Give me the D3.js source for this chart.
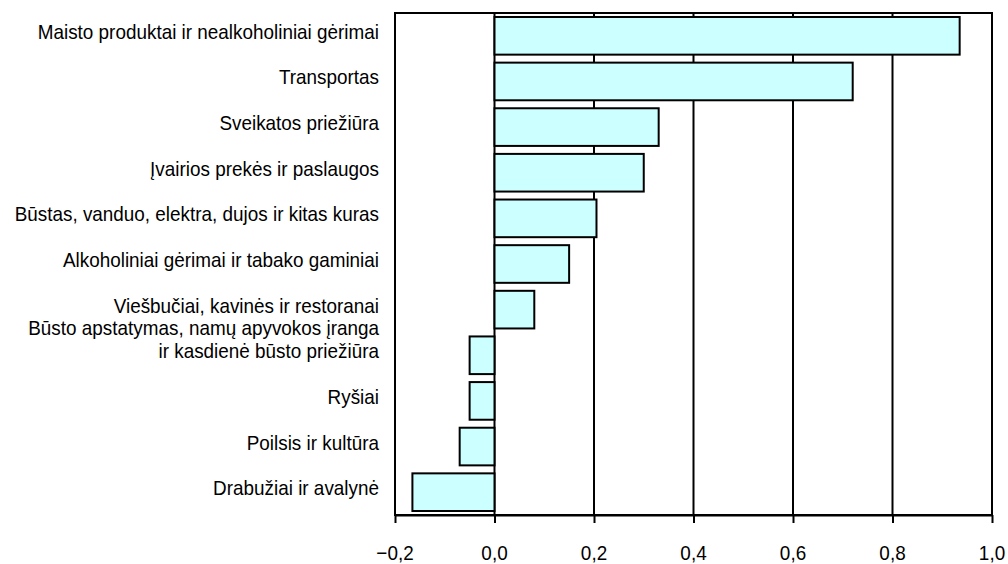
<!DOCTYPE html>
<html>
<head>
<meta charset="utf-8">
<script src="https://cdn.jsdelivr.net/npm/d3@7"></script>
<style>
  body { margin: 0; background: #fff; }
  text { font-family: "Liberation Sans", Arial, sans-serif; fill: #000; }
</style>
</head>
<body>
<svg width="1008" height="564"></svg>
<script>
var svg = d3.select("svg"),
    width = +svg.attr("width"),
    height = +svg.attr("height");

// categories, top to bottom (label lines split with "\n")
var categories = [
  "Maisto produktai ir nealkoholiniai gėrimai",
  "Transportas",
  "Sveikatos priežiūra",
  "Įvairios prekės ir paslaugos",
  "Būstas, vanduo, elektra, dujos ir kitas kuras",
  "Alkoholiniai gėrimai ir tabako gaminiai",
  "Viešbučiai, kavinės ir restoranai",
  "Būsto apstatymas, namų apyvokos įranga\nir kasdienė būsto priežiūra",
  "Ryšiai",
  "Poilsis ir kultūra",
  "Drabužiai ir avalynė"
];
var values = [0.935, 0.72, 0.33, 0.30, 0.205, 0.15, 0.08, -0.05, -0.05, -0.07, -0.165];
var tickValues = [-0.2, 0, 0.2, 0.4, 0.6, 0.8, 1.0];

var plot = {left: 395, right: 992, top: 13, bottom: 515};
var squeeze = 0.9;   // text in the original is a bit narrow
var fontSize = 21;

var x = d3.scaleLinear().domain([-0.2, 1.0]).range([plot.left, plot.right]);
var y = d3.scaleBand().domain(categories)
    .range([plot.top, plot.bottom])
    .paddingInner(0.175).paddingOuter(0.0875);

function fmt(d) {
  return d3.format(".1f")(d).replace("-", "\u2013").replace(".", ",");
}

//vertical grid lines
svg.append("g").attr("class", "grid")
  .selectAll("line")
  .data(tickValues.filter(function(d) { return d > -0.2 && d < 1.0; }))
  .enter().append("line")
    .attr("x1", function(d) { return x(d); })
    .attr("x2", function(d) { return x(d); })
    .attr("y1", plot.top)
    .attr("y2", plot.bottom)
    .attr("stroke", "#000")
    .attr("stroke-width", 2);

//bars
svg.append("g").attr("class", "bars")
  .selectAll("rect")
  .data(values)
  .enter().append("rect")
    .attr("x", function(d) { return x(Math.min(0, d)); })
    .attr("y", function(d, i) { return y(categories[i]); })
    .attr("width", function(d) { return Math.abs(x(d) - x(0)); })
    .attr("height", y.bandwidth())
    .attr("fill", "#ccffff")
    .attr("stroke", "#000")
    .attr("stroke-width", 2);

//plot frame
svg.append("rect")
  .attr("x", plot.left).attr("y", plot.top)
  .attr("width", plot.right - plot.left)
  .attr("height", plot.bottom - plot.top)
  .attr("fill", "none")
  .attr("stroke", "#000")
  .attr("stroke-width", 2);

//x axis
var xAxis = d3.axisBottom(x).tickValues(tickValues).tickSize(8).tickSizeOuter(0).tickFormat("");
var gx = svg.append("g")
  .attr("transform", "translate(0," + plot.bottom + ")")
  .call(xAxis);
gx.select(".domain").attr("stroke-width", 2);
gx.selectAll(".tick line").attr("stroke-width", 2);

svg.append("g").attr("class", "xlabels")
  .selectAll("text")
  .data(tickValues)
  .enter().append("text")
    .attr("transform", function(d) { return "translate(" + x(d) + ",560) scale(" + squeeze + ",1)"; })
    .attr("text-anchor", "middle")
    .style("font-size", fontSize + "px")
    .text(fmt);

//category labels
var labelX = 379;
var lab = svg.append("g").attr("class", "ylabels")
  .selectAll("g")
  .data(categories)
  .enter().append("g")
    .attr("transform", function(d) {
      return "translate(" + labelX + "," + (y(d) + y.bandwidth() / 2 + 3) + ") scale(" + squeeze + ",1)";
    });

lab.each(function(d) {
  var lines = d.split("\n");
  var g = d3.select(this);
  lines.forEach(function(t, k) {
    g.append("text")
      .attr("x", 0)
      .attr("y", -(lines.length - 1 - k) * 23)
      .attr("text-anchor", "end")
      .style("font-size", fontSize + "px")
      .text(t);
  });
});
</script>
</body>
</html>
